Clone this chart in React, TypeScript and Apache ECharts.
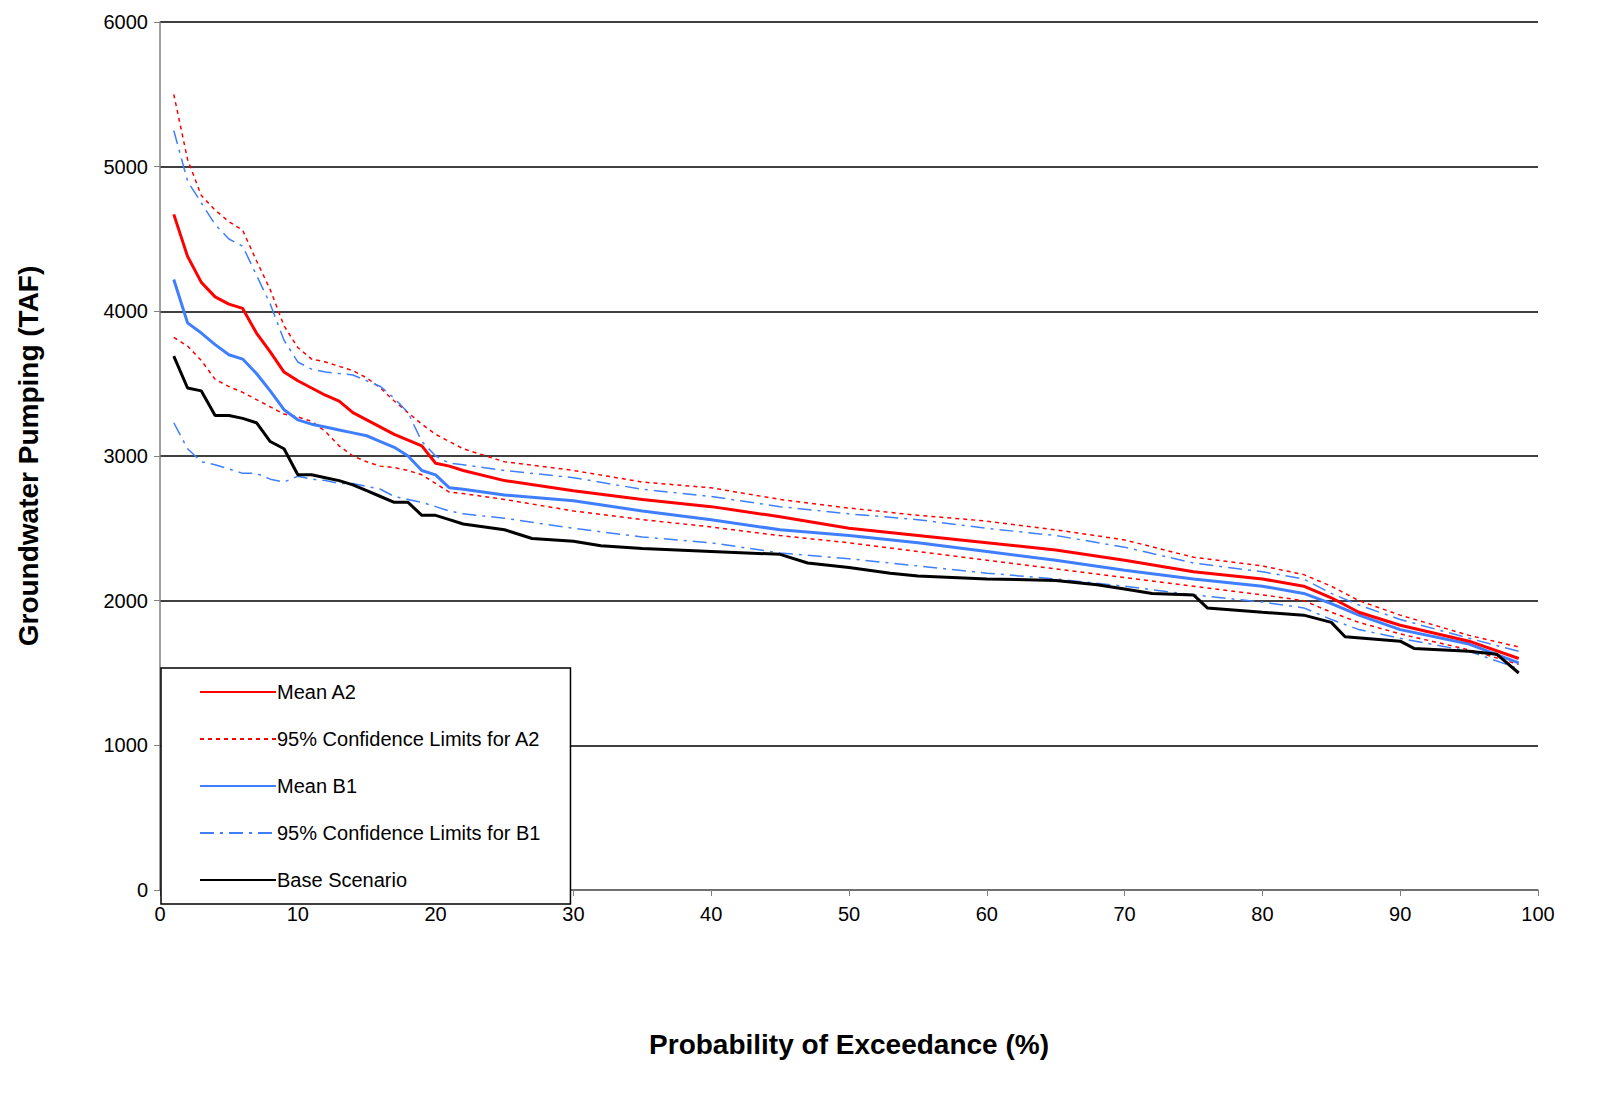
import * as echarts from 'echarts';
import React, { useEffect, useRef } from 'react';

// probability of exceedance (%) for the scenario curves
const xs = [1, 2, 3, 4, 5, 6, 7, 8, 9, 10, 11, 12, 13, 14, 15, 16, 17, 18, 19, 20, 21, 22, 25, 30, 35, 40, 45, 50, 55, 60, 65, 70, 75, 80, 83, 85, 87, 90, 95, 98.6];

const meanA2 = [4670, 4380, 4200, 4100, 4050, 4020, 3850, 3720, 3580, 3520, 3470, 3420, 3380, 3300, 3250, 3200, 3150, 3110, 3070, 2950, 2930, 2900, 2830, 2760, 2700, 2650, 2580, 2500, 2450, 2400, 2350, 2280, 2200, 2150, 2100, 2020, 1920, 1830, 1720, 1600];
const upperA2 = [5500, 5050, 4800, 4700, 4620, 4560, 4350, 4150, 3900, 3750, 3670, 3650, 3620, 3590, 3540, 3470, 3380, 3300, 3220, 3150, 3100, 3050, 2960, 2900, 2820, 2780, 2700, 2640, 2590, 2550, 2490, 2420, 2300, 2240, 2180, 2100, 2000, 1900, 1760, 1680];
const lowerA2 = [3820, 3760, 3660, 3530, 3480, 3440, 3390, 3340, 3290, 3270, 3240, 3170, 3070, 3000, 2960, 2930, 2920, 2900, 2870, 2810, 2750, 2740, 2700, 2620, 2560, 2510, 2450, 2400, 2340, 2280, 2220, 2160, 2100, 2040, 2000, 1920, 1850, 1770, 1660, 1560];
const meanB1 = [4220, 3920, 3850, 3770, 3700, 3670, 3570, 3450, 3320, 3250, 3220, 3200, 3180, 3160, 3140, 3100, 3060, 3000, 2900, 2870, 2780, 2770, 2730, 2690, 2620, 2560, 2490, 2450, 2400, 2340, 2280, 2210, 2150, 2100, 2050, 1980, 1900, 1800, 1700, 1570];
const upperB1 = [5250, 4900, 4750, 4600, 4500, 4450, 4250, 4050, 3800, 3650, 3600, 3580, 3570, 3560, 3520, 3480, 3400, 3300, 3100, 3000, 2950, 2940, 2900, 2850, 2770, 2720, 2650, 2600, 2560, 2500, 2450, 2370, 2260, 2200, 2150, 2050, 1970, 1870, 1740, 1650];
const lowerB1 = [3230, 3050, 2960, 2940, 2910, 2880, 2880, 2840, 2820, 2860, 2840, 2830, 2810, 2810, 2790, 2770, 2720, 2700, 2680, 2650, 2620, 2600, 2570, 2500, 2440, 2400, 2330, 2290, 2240, 2190, 2150, 2100, 2040, 1990, 1950, 1870, 1800, 1740, 1650, 1530];

const baseX = [1, 2, 3, 4, 5, 6, 7, 8, 9, 10, 11, 12, 13, 14, 15, 16, 17, 18, 19, 20, 21, 22, 25, 27, 30, 32, 35, 40, 45, 47, 50, 53, 55, 60, 65, 68, 70, 72, 75, 76, 80, 83, 85, 86, 90, 91, 95, 97, 98.6];
const baseY = [3690, 3470, 3450, 3280, 3280, 3260, 3230, 3100, 3050, 2870, 2870, 2850, 2830, 2800, 2760, 2720, 2680, 2680, 2590, 2590, 2560, 2530, 2490, 2430, 2410, 2380, 2360, 2340, 2320, 2260, 2230, 2190, 2170, 2150, 2140, 2110, 2080, 2050, 2040, 1950, 1920, 1900, 1850, 1750, 1720, 1670, 1650, 1630, 1500];

const pairs = (x: number[], y: number[]) => x.map((v, i) => [v, y[i]]);

const FONT = '"Liberation Sans", Arial, sans-serif';

const App = () => {
  const chartRef = useRef<HTMLDivElement>(null);

  useEffect(() => {
    document.body.style.margin = '0';
    if (!chartRef.current) return;
    const chart = echarts.init(chartRef.current, null, { renderer: 'svg' });

    const line = (name: string, data: number[][], color: string, type: any, width: number, z = 2) => ({
      name,
      type: 'line',
      data,
      symbol: 'none',
      z,
      lineStyle: { color, type, width },
      itemStyle: { color },
    });

    chart.setOption({
      animation: false,
      backgroundColor: '#fff',
      textStyle: { fontFamily: FONT },
      grid: { left: 160, top: 22, right: 76, bottom: 203 },
      legend: {
        orient: 'vertical',
        left: 161,
        top: 668,
        width: 437,
        height: 210,
        padding: [14, 30, 14, 38],
        itemWidth: 76,
        itemHeight: 14,
        itemGap: 27,
        itemStyle: { opacity: 0 },
        backgroundColor: '#fff',
        borderColor: '#000',
        borderWidth: 1.5,
        z: 10,
        textStyle: { fontFamily: FONT, fontSize: 20, color: '#000', padding: [0, 0, 0, -4] },
        data: ['Mean A2', '95% Confidence Limits for A2', 'Mean B1', '95% Confidence Limits for B1', 'Base Scenario'],
      },
      xAxis: {
        type: 'value',
        min: 0,
        max: 100,
        interval: 10,
        name: 'Probability of Exceedance (%)',
        nameLocation: 'middle',
        nameGap: 140,
        nameTextStyle: { fontFamily: FONT, fontSize: 28, fontWeight: 'bold', color: '#000' },
        axisLine: { lineStyle: { color: '#808080', width: 1.5 } },
        axisTick: { lineStyle: { color: '#808080' }, length: 6 },
        axisLabel: { fontFamily: FONT, fontSize: 20, color: '#000', margin: 14 },
        splitLine: { show: false },
      },
      yAxis: {
        type: 'value',
        min: 0,
        max: 6000,
        interval: 1000,
        name: 'Groundwater Pumping (TAF)',
        nameLocation: 'middle',
        nameGap: 118,
        nameTextStyle: { fontFamily: FONT, fontSize: 28, fontWeight: 'bold', color: '#000' },
        axisLine: { show: true, lineStyle: { color: '#808080', width: 1.5 } },
        axisTick: { show: true, lineStyle: { color: '#808080' }, length: 6 },
        axisLabel: { fontFamily: FONT, fontSize: 20, color: '#000', margin: 12, formatter: (v: number) => String(v) },
        splitLine: { lineStyle: { color: '#000', width: 1.5 } },
      },
      series: [
        line('Mean A2', pairs(xs, meanA2), '#ff0000', 'solid', 3, 4),
        line('95% Confidence Limits for A2', pairs(xs, upperA2), '#ff0000', [4, 4], 1.5),
        line('95% Confidence Limits for A2', pairs(xs, lowerA2), '#ff0000', [4, 4], 1.5),
        line('Mean B1', pairs(xs, meanB1), '#3f7fff', 'solid', 3, 3),
        line('95% Confidence Limits for B1', pairs(xs, upperB1), '#3f7fff', [14, 6, 3, 6], 1.5),
        line('95% Confidence Limits for B1', pairs(xs, lowerB1), '#3f7fff', [14, 6, 3, 6], 1.5),
        line('Base Scenario', pairs(baseX, baseY), '#000', 'solid', 3, 3),
      ],
    });

    return () => chart.dispose();
  }, []);

  return <div ref={chartRef} style={{ width: 1614, height: 1093 }} />;
};

export default App;
